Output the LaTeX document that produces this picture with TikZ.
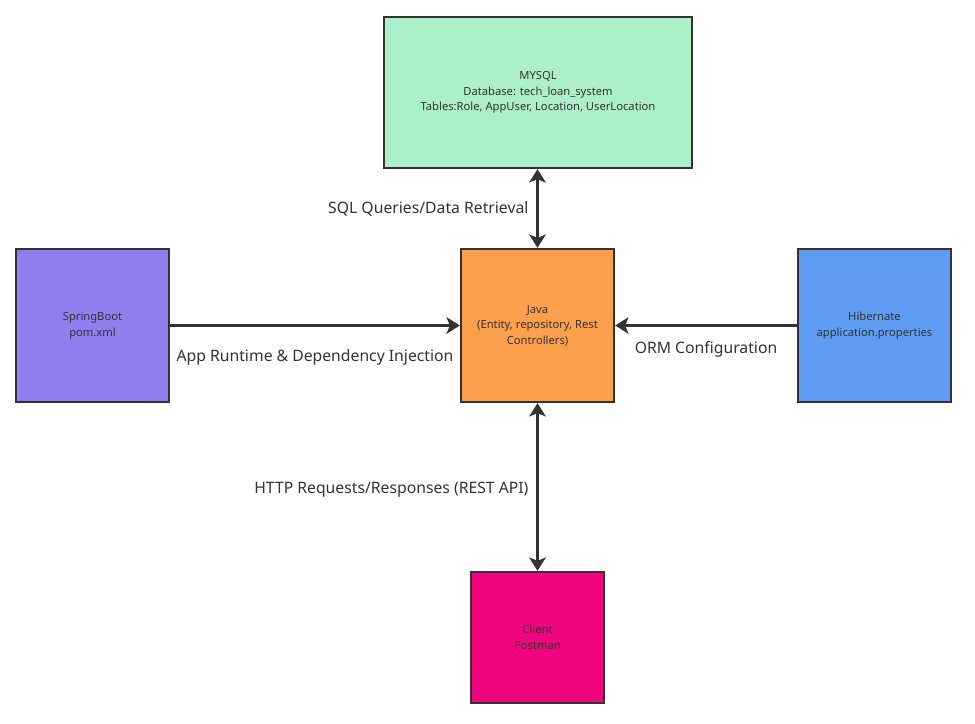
\documentclass[tikz,border=0pt]{standalone}
\usepackage{fontspec}
\setmainfont{Noto Sans}
\usetikzlibrary{arrows.meta}
\definecolor{edge}{HTML}{333333}
\definecolor{txt}{HTML}{333333}
\definecolor{mysqlgreen}{HTML}{ABF0C8}
\definecolor{javaorange}{HTML}{FCA04D}
\definecolor{springpurple}{HTML}{8F7EEE}
\definecolor{hibblue}{HTML}{5F9DF2}
\definecolor{clientpink}{HTML}{F0057F}
\begin{document}
\begin{tikzpicture}[x=0.75pt, y=-0.75pt,
  box/.style={draw=edge, line width=1.5pt, align=center, text=txt, inner sep=0pt,
    font=\fontsize{8.4}{11.6}\selectfont},
  link/.style={draw=edge, line width=1.6pt, -{Stealth[length=10pt, width=12.5pt, inset=2.5pt]}},
  both/.style={link, {Stealth[length=10pt, width=12.5pt, inset=2.5pt]}-{Stealth[length=10pt, width=12.5pt, inset=2.5pt]}},
  lbl/.style={text=txt, font=\fontsize{11.8}{13}\selectfont, inner sep=0pt}]
\useasboundingbox (0,0) rectangle (975,724);
\node[box, fill=mysqlgreen, minimum width=231pt, minimum height=113.5pt] (mysql) at (538,92.5)
  {MYSQL\\Database: tech\_loan\_system\\Tables:Role, AppUser, Location, UserLocation};
\node[box, fill=javaorange, minimum width=115pt, minimum height=115pt] (java) at (537.5,325.5)
  {Java\\(Entity, repository, Rest\\Controllers)};
\node[box, fill=springpurple, minimum width=115pt, minimum height=115pt] (spring) at (92.5,325.5)
  {SpringBoot\\pom.xml};
\node[box, fill=hibblue, minimum width=115pt, minimum height=115pt] (hibernate) at (874.5,325.5)
  {Hibernate\\application.properties};
\node[box, fill=clientpink, minimum width=100pt, minimum height=98.5pt] (client) at (537.5,637.5)
  {Client\\Postman};
\draw[both] (mysql.south -| java.north) -- (java.north)
  node[lbl, midway, left=6pt] (sqllbl) {SQL Queries/Data Retrieval};
\draw[link] (spring.east) -- (java.west)
  node[lbl, midway, below=17pt] (springlbl) {App Runtime \& Dependency Injection};
\draw[link] (hibernate.west) -- (java.east)
  node[lbl, midway, below=11pt] (hiblbl) {ORM Configuration};
\draw[both] (java.south) -- (client.north -| java.south)
  node[lbl, midway, left=6pt, yshift=-2pt] (httplbl) {HTTP Requests/Responses (REST API)};
\end{tikzpicture}
\end{document}
